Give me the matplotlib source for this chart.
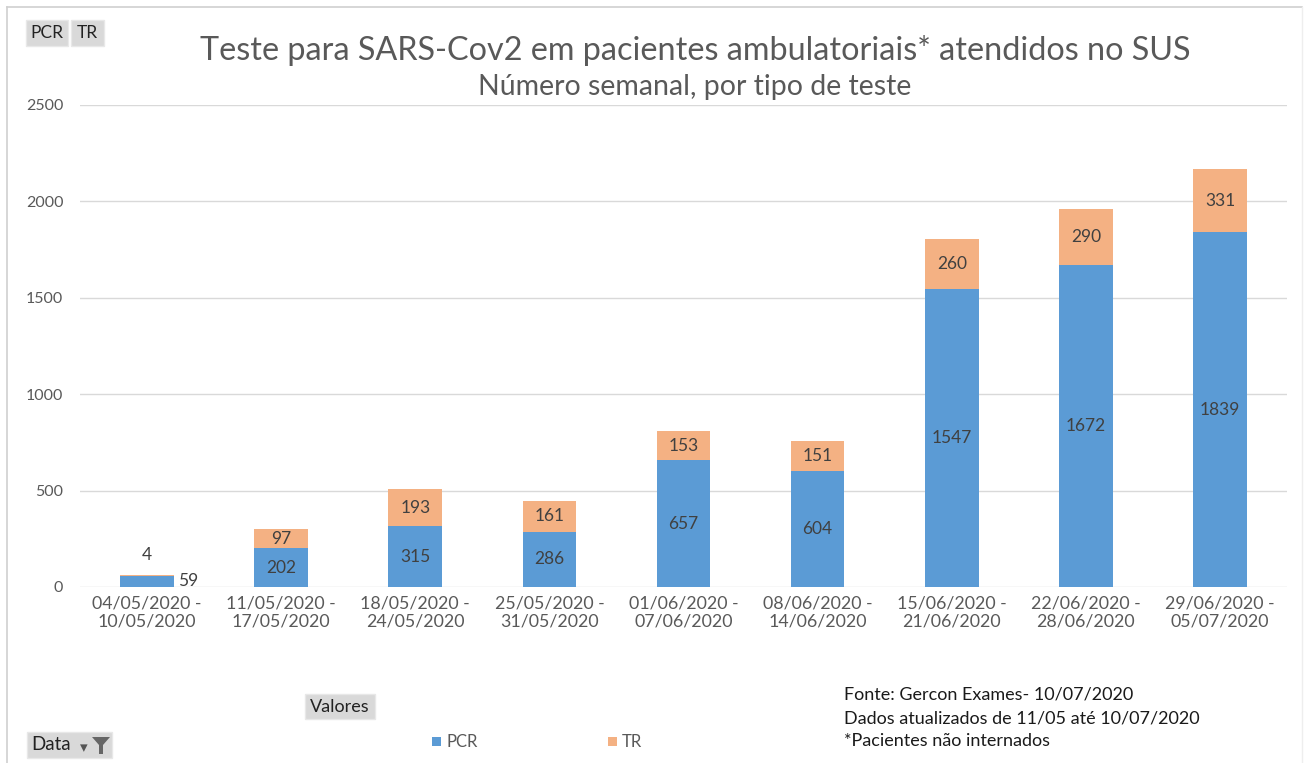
import matplotlib
matplotlib.use("Agg")
import matplotlib.pyplot as plt
from matplotlib.patches import Rectangle
from matplotlib.lines import Line2D

categories = ["04/05/2020 -\n10/05/2020", "11/05/2020 -\n17/05/2020", "18/05/2020 -\n24/05/2020",
              "25/05/2020 -\n31/05/2020", "01/06/2020 -\n07/06/2020", "08/06/2020 -\n14/06/2020",
              "15/06/2020 -\n21/06/2020", "22/06/2020 -\n28/06/2020", "29/06/2020 -\n05/07/2020"]
pcr = [59, 202, 315, 286, 657, 604, 1547, 1672, 1839]
tr = [4, 97, 193, 161, 153, 151, 260, 290, 331]
yticks = [0, 500, 1000, 1500, 2000, 2500]

BLUE = "#5B9BD5"
ORANGE = "#F4B183"
GREY = "#595959"
LBL = "#404040"

plt.rcParams['font.family'] = ['Lato', 'DejaVu Sans']

W, H = 1309, 763
fig = plt.figure(figsize=(W / 100, H / 100), dpi=100)

def fx(px):
    return px / W

def fy(py):
    return 1 - py / H

ax = fig.add_axes([fx(80), fy(587), fx(1287) - fx(80), fy(105) - fy(587)])
x = list(range(len(categories)))
ax.bar(x, pcr, width=0.4, color=BLUE, zorder=3)
ax.bar(x, tr, width=0.4, bottom=pcr, color=ORANGE, zorder=3)

ax.set_xlim(-0.5, len(categories) - 0.5)
ax.set_ylim(0, 2500)
ax.set_yticks(yticks)
ax.set_yticklabels([str(v) for v in yticks])
ax.set_xticks(x)
ax.set_xticklabels(categories, fontsize=12.8, color=GREY, linespacing=1.2)
ax.tick_params(axis='both', length=0, colors=GREY)
ax.tick_params(axis='y', labelsize=11.5, pad=12)
ax.tick_params(axis='x', pad=6)
ax.grid(axis='y', color="#D9D9D9", linewidth=1, zorder=0)
for s in ax.spines.values():
    s.set_visible(False)

for i, (p, t) in enumerate(zip(pcr, tr)):
    if p < 100:
        ax.annotate(str(p), (i + 0.2, p / 2), xytext=(3, 0), textcoords="offset points",
                    ha="left", va="center", fontsize=12.5, color=LBL)
        ax.annotate(str(t), (i, p + t), xytext=(0, 14), textcoords="offset points",
                    ha="center", va="center", fontsize=12.5, color=LBL)
    else:
        ax.text(i, p / 2, str(p), ha="center", va="center", fontsize=12.5, color=LBL, zorder=4)
        ax.text(i, p + t / 2, str(t), ha="center", va="center", fontsize=12.5, color=LBL, zorder=4)

# titles
fig.text(fx(695), fy(50), "Teste para SARS-Cov2 em pacientes ambulatoriais* atendidos no SUS",
         ha="center", va="center", fontsize=23.3, color=GREY)
fig.text(fx(695), fy(87), "Número semanal, por tipo de teste",
         ha="center", va="center", fontsize=20.5, color=GREY)

# border
fig.add_artist(Line2D([fx(7), fx(1302)], [fy(7), fy(7)], color="#D0D0D0", lw=1.2))
fig.add_artist(Line2D([fx(7), fx(7)], [fy(7), fy(763)], color="#D0D0D0", lw=1.2))
fig.add_artist(Line2D([fx(1302), fx(1302)], [fy(7), fy(763)], color="#EEEEEE", lw=1))

# pivot-style buttons
def button(x0, y0, x1, y1, text, fs=12.5):
    fig.add_artist(Rectangle((fx(x0), fy(y1)), fx(x1) - fx(x0), fy(y0) - fy(y1),
                             facecolor="#D9D9D9", edgecolor="#E8E8E8", lw=1))
    fig.text(fx((x0 + x1) / 2), fy((y0 + y1) / 2), text, ha="center", va="center",
             fontsize=fs, color="#222222")

button(26, 20, 68, 46, "PCR")
button(71, 20, 104, 46, "TR")
button(305, 694, 375, 719, "Valores", fs=13)
fig.add_artist(Rectangle((fx(27), fy(758)), fx(112) - fx(27), fy(732) - fy(758),
                         facecolor="#D9D9D9", edgecolor="#E8E8E8", lw=1))
fig.text(fx(31), fy(745), "Data", ha="left", va="center", fontsize=13.5, color="#222222")
fig.text(fx(84), fy(748), "▾", ha="center", va="center", fontsize=11, color="#555555",
         family=['DejaVu Sans'])
fig.add_artist(plt.Polygon([[fx(92), fy(737)], [fx(110), fy(737)], [fx(103), fy(745)],
                            [fx(103), fy(754)], [fx(99), fy(754)], [fx(99), fy(745)]],
                           closed=True, facecolor="#666666", edgecolor="none"))

# legend
fig.add_artist(Rectangle((fx(432), fy(746)), fx(441) - fx(432), fy(737) - fy(746),
                         facecolor=BLUE, edgecolor="none"))
fig.text(fx(446), fy(742), "PCR", ha="left", va="center", fontsize=12, color=GREY)
fig.add_artist(Rectangle((fx(608), fy(746)), fx(617) - fx(608), fy(737) - fy(746),
                         facecolor=ORANGE, edgecolor="none"))
fig.text(fx(622), fy(742), "TR", ha="left", va="center", fontsize=12, color=GREY)

# notes
notes = ["Fonte: Gercon Exames- 10/07/2020",
         "Dados atualizados de 11/05 até 10/07/2020",
         "*Pacientes não internados"]
for k, n in enumerate(notes):
    fig.text(fx(844), fy(695 + 23 * k), n, ha="left", va="center", fontsize=13, color="#1a1a1a")

fig.savefig("out.png", dpi=100, facecolor="white")
